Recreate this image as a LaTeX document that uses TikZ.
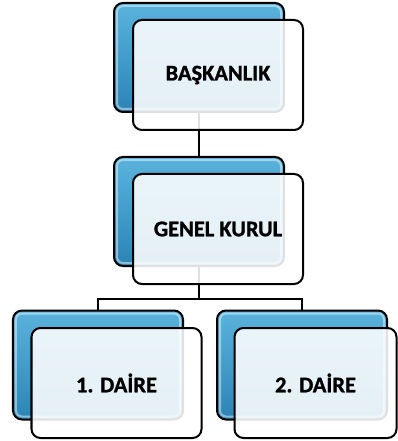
\documentclass[tikz,border=0pt]{standalone}
\usepackage{fontspec}
\setmainfont{Carlito}[BoldFeatures={FakeBold=1.2}]
\usetikzlibrary{positioning}
\definecolor{blueTop}{HTML}{5AB3DC}
\definecolor{blueBot}{HTML}{2C84B6}

\begin{document}
\begin{tikzpicture}[x=1bp,y=-1bp,
	backbox/.style={draw=black, line width=2bp, rounded corners=9bp, minimum width=170bp, minimum height=109bp, top color=blueTop, bottom color=blueBot},
	frontbox/.style={draw=black, line width=2bp, rounded corners=9bp, minimum width=170bp, minimum height=110bp, fill=white, fill opacity=0.88, text opacity=1, font=\fontsize{22.5}{26}\selectfont\bfseries},
	gloss/.style={white, opacity=0.45, line width=2bp, rounded corners=6bp},
	link/.style={line width=2bp}]
	\useasboundingbox (0,0) rectangle (397,441);
	% back boxes
	\node[backbox] (baskanlikback) at (199,57.5) {};
	\node[backbox] (genelkurulback) at (199,211.5) {};
	\node[backbox] (daire1back) at (98,365) {};
	\node[backbox] (daire2back) at (302,365) {};
	\foreach \b in {baskanlikback,genelkurulback,daire1back,daire2back}
		\draw[gloss] ([shift={(4bp,-4bp)}]\b.north west) rectangle ([shift={(-4bp,4bp)}]\b.south east);
	%
	\draw[link] (baskanlikback.south) -- (genelkurulback.north);
	\coordinate (split) at ([yshift=-32bp]genelkurulback.south);
	\draw[link] (genelkurulback.south) -- (split);
	\draw[link] (split) -| (daire1back.north);
	\draw[link] (split) -| (daire2back.north);
	% front boxes
	\node[frontbox] (baskanlik) at ([shift={(19bp,-17.5bp)}]baskanlikback) {BAŞKANLIK};
	\node[frontbox] (genelkurul) at ([shift={(19bp,-17.5bp)}]genelkurulback) {GENEL KURUL};
	\node[frontbox] (daire1) at ([shift={(18.5bp,-18bp)}]daire1back) {1. DAİRE};
	\node[frontbox, minimum width=162bp] (daire2) at ([shift={(13.5bp,-18bp)}]daire2back) {2. DAİRE};
\end{tikzpicture}
\end{document}
